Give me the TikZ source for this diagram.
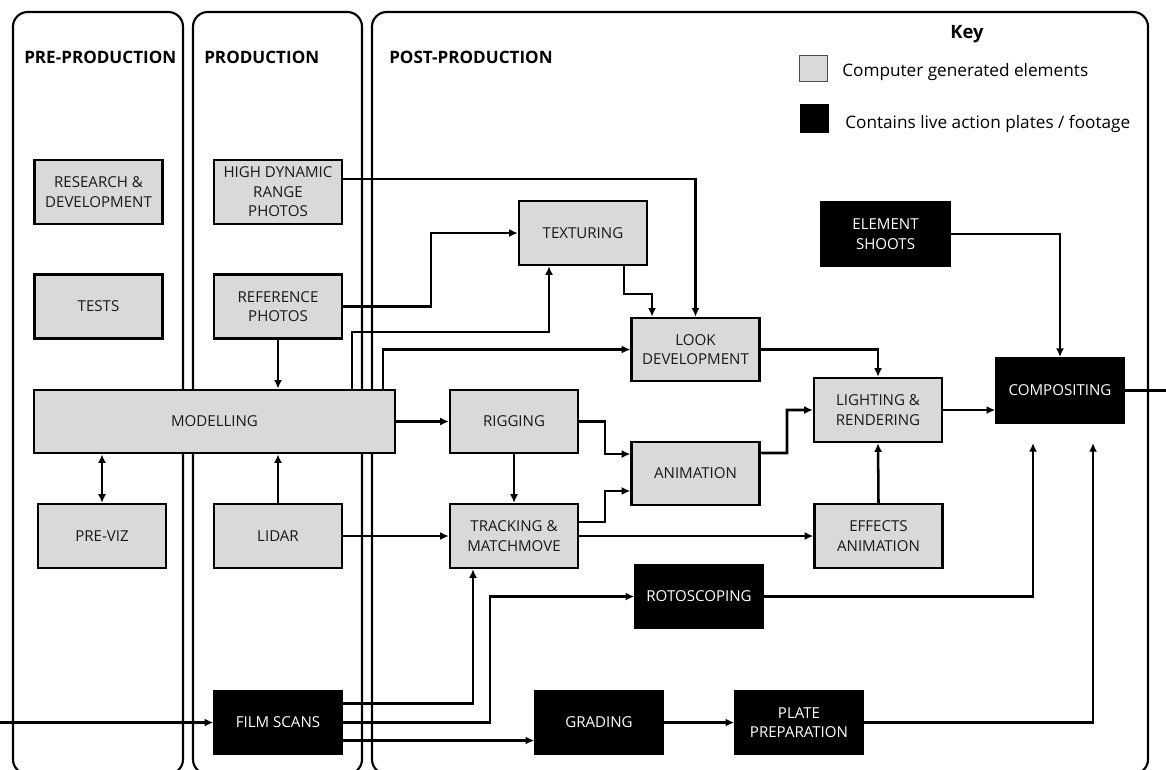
\documentclass[tikz,border=0pt]{standalone}
\usepackage{fontspec}
\setmainfont{Open Sans}
\usetikzlibrary{arrows.meta,calc}
\begin{document}
\begin{tikzpicture}[x=0.75pt,y=-0.75pt,
  panel/.style={draw=black,line width=1.6pt,rounded corners=11pt},
  cg/.style={draw=black,fill=cggray,line width=1.7pt,minimum width=96pt,minimum height=48pt,inner sep=0pt,align=center,text=black!90,font=\fontsize{11.3}{14.6}\selectfont},
  live/.style={draw=black,fill=black,line width=1.2pt,minimum width=96pt,minimum height=48pt,inner sep=0pt,align=center,text=white,font=\fontsize{11.3}{14.6}\selectfont},
  conn/.style={line width=1.9pt},
  arr/.style={conn,-{Latex[length=6.5pt,width=6pt]}},
  hdr/.style={font=\bfseries\fontsize{12.8}{14}\selectfont,anchor=west,inner sep=0pt},
  keytxt/.style={font=\fontsize{12.9}{15}\selectfont,anchor=west,inner sep=0pt}
]
\definecolor{cggray}{HTML}{D9D9D9}
\clip (0,0) rectangle (1166,769);
\fill[white] (0,0) rectangle (1166,769);

% panels
\draw[panel] (13,12) rectangle (183,774);
\draw[panel] (193,12) rectangle (362,774);
\draw[panel] (372,12) rectangle (1148,774);

\node[hdr] (hpre) at (24,57) {PRE-PRODUCTION};
\node[hdr] (hprod) at (204,57) {PRODUCTION};
\node[hdr] (hpost) at (389,57) {POST-PRODUCTION};

% key
\node[font=\bfseries\fontsize{13.8}{15}\selectfont,inner sep=0pt] (keyt) at (967,34) {Key};
\node[draw=black!70,fill=cggray,line width=0.8pt,minimum width=21pt,minimum height=20pt,inner sep=0pt] (keycg) at (813.5,68.5) {};
\node[draw=black,fill=black,minimum width=21pt,minimum height=21pt,inner sep=0pt] (keylive) at (814,118) {};
\node[keytxt] (keycgt) at (842,72) {Computer generated elements};
\node[keytxt] (keylivet) at (845,124) {Contains live action plates / footage};

% nodes
\node[cg] (rd) at (98.5,192) {RESEARCH \&\\DEVELOPMENT};
\node[cg] (tests) at (98.5,306.5) {TESTS};
\node[cg] (hdrp) at (278,192) {HIGH DYNAMIC\\RANGE\\PHOTOS};
\node[cg] (ref) at (278,306.5) {REFERENCE\\PHOTOS};
\node[cg,minimum width=270.75pt,minimum height=47.5pt] (model) at (214.5,421.5) {MODELLING};
\node[cg] (previz) at (102,536) {PRE-VIZ};
\node[cg] (lidar) at (278,536) {LIDAR};
\node[live] (film) at (278,722.5) {FILM SCANS};

\node[cg] (tex) at (583,233) {TEXTURING};
\node[cg,minimum height=47.5pt] (look) at (695.5,349.5) {LOOK\\DEVELOPMENT};
\node[cg,minimum height=47.5pt] (rig) at (514,421.5) {RIGGING};
\node[cg,minimum height=47.5pt] (anim) at (695.5,473.5) {ANIMATION};
\node[cg] (track) at (514,536) {TRACKING \&\\MATCHMOVE};
\node[cg] (light) at (878,410) {LIGHTING \&\\RENDERING};
\node[cg] (fx) at (878.5,536) {EFFECTS\\ANIMATION};
\node[live] (roto) at (699,596.5) {ROTOSCOPING};
\node[live] (grade) at (599,722.5) {GRADING};
\node[live] (plate) at (799,722.5) {PLATE\\PREPARATION};
\node[live,minimum width=96.5pt,minimum height=49pt] (es) at (885.5,234) {ELEMENT\\SHOOTS};
\node[live,minimum height=49pt] (comp) at (1060,390.5) {COMPOSITING};

% free ends
\coordinate (inpt) at (0,722.5);
\coordinate (outpt) at (1166,390.5);
\coordinate (crin1) at (1033,443);
\coordinate (crin2) at (1093,443);

% connectors
\draw[arr] ([yshift=9.75pt]hdrp.east) -| (look.north);
\draw[arr] (ref.east) -- (431,306.5) |- (tex.west);
\draw[arr] (ref.south) -- (ref.south |- model.north);
\draw[arr] ([xshift=103.1pt]model.north) |- (549,332) -- ([xshift=-25.5pt]tex.south);
\draw[arr] ([xshift=126.4pt]model.north) |- (look.west);
\draw[arr] ([xshift=30.75pt]tex.south) -- ++(0,28) -| ([xshift=-32.6pt]look.north);
\draw[arr] (model.east) -- (rig.west);
\draw[arr,{Latex[length=6.5pt,width=6pt]}-{Latex[length=6.5pt,width=6pt]}] (previz.north) -- (previz.north |- model.south);
\draw[arr] (lidar.north) -- (lidar.north |- model.south);
\draw[arr] (lidar.east) -- (track.west);
\draw[arr] (rig.south) -- (track.north);
\draw[arr] (rig.east) -- (605,421.5) |- ([yshift=14.6pt]anim.west);
\draw[arr] ([yshift=10.5pt]track.east) -- (605,522) |- ([yshift=-13.1pt]anim.west);
\draw[arr] (track.east) -- (fx.west);
\draw[arr] (look.east) -| (light.north);
\draw[arr] ([yshift=15.4pt]anim.east) -- (787,453) |- (light.west);
\draw[arr] (fx.north) -- (light.south);
\draw[arr] (light.east) -- (light.east -| comp.west);
\draw[arr] (es.east) -| (comp.north);
\draw[conn] (comp.east) -- (outpt);
\draw[arr] (inpt) -- (film.west);
\draw[arr] ([yshift=14.25pt]film.east) -| ([xshift=-30.75pt]track.south);
\draw[arr] (film.east) -- (490,722.5) |- (roto.west);
\draw[arr] ([yshift=-13.5pt]film.east) -- ([yshift=-13.5pt]grade.west);
\draw[arr] (grade.east) -- (plate.west);
\draw[arr] (roto.east) -| (crin1);
\draw[arr] (plate.east) -| (crin2);
\end{tikzpicture}
\end{document}
